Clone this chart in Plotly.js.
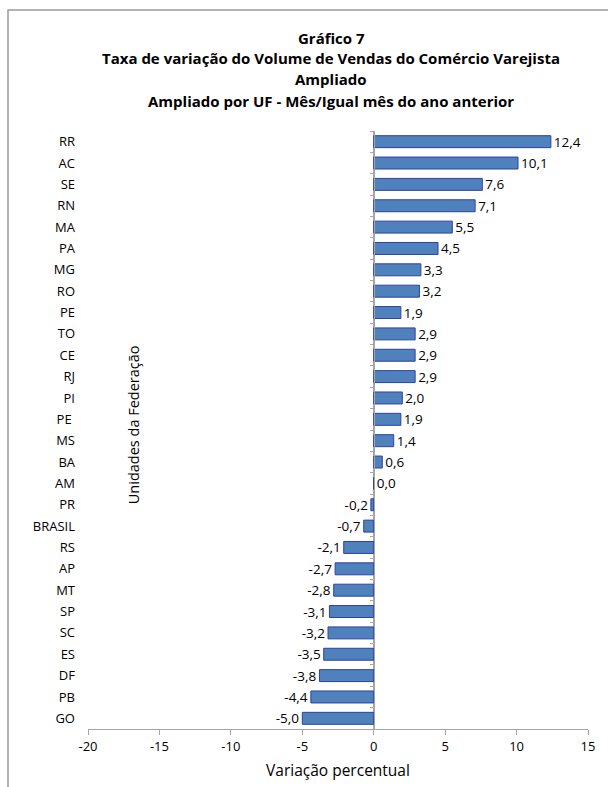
<!DOCTYPE html>
<html>
<head>
<meta charset="utf-8">
<script src="https://cdn.plot.ly/plotly-3.0.1.min.js"></script>
<style>html,body{margin:0;padding:0;background:#fff;}#chart{width:608px;height:787px;}</style>
</head>
<body>
<div id="chart"></div>
<script>
const titleLines = ["Gráfico 7","Taxa de variação do Volume de Vendas do Comércio Varejista","Ampliado","Ampliado por UF - Mês/Igual mês do ano anterior"];
const categories = ["RR","AC","SE","RN","MA","PA","MG","RO","PE","TO","CE","RJ","PI","PE ","MS","BA","AM","PR","BRASIL","RS","AP","MT","SP","SC","ES","DF","PB","GO"];
const values = [12.4,10.1,7.6,7.1,5.5,4.5,3.3,3.2,1.9,2.9,2.9,2.9,2.0,1.9,1.4,0.6,0.0,-0.2,-0.7,-2.1,-2.7,-2.8,-3.1,-3.2,-3.5,-3.8,-4.4,-5.0];
const xTicks = [-20,-15,-10,-5,0,5,10,15];
const xRange = [-20, 15];

const fontFam = "'Open Sans', 'Noto Sans', sans-serif";
const n = categories.length;
const idx = categories.map((c,i)=>i);
const boundaries = [];
for (let i = 0; i <= n; i++) boundaries.push(i - 0.5);
const zeroPos = (0 - xRange[0]) / (xRange[1] - xRange[0]);

const traces = [
  {
    type: 'bar', orientation: 'h',
    x: values, y: idx,
    marker: {color: '#4F81BD', line: {color: '#2E40A0', width: 1}},
    text: values.map(v => v.toFixed(1).replace('.', ',')),
    textposition: 'outside', cliponaxis: false, constraintext: 'none',
    textfont: {family: fontFam, size: 13.5, color: '#000'},
    hoverinfo: 'skip', showlegend: false
  },
  {
    type: 'scatter', mode: 'markers', x: [], y: [], yaxis: 'y2',
    hoverinfo: 'skip', showlegend: false
  }
];

// title line positions in pixels from top
const titleY = [38, 58, 79, 101];
const plotTop = 131, plotH = 598;
const titleAnn = titleLines.map((t, i) => ({
  text: '<b>' + t + '</b>',
  xref: 'paper', yref: 'paper',
  x: (331 - 88) / 500, y: 1 + (plotTop - titleY[i]) / plotH,
  xanchor: 'center', yanchor: 'middle', showarrow: false,
  font: {family: fontFam, size: 15, color: '#000'}
}));

const layout = {
  width: 608, height: 787,
  margin: {l: 88, r: 20, t: 131, b: 58},
  paper_bgcolor: '#fff', plot_bgcolor: '#fff',
  bargap: 0.44,
  xaxis: {
    range: xRange, tickvals: xTicks, ticktext: xTicks.map(String),
    showline: true, linecolor: '#A6A6A6', linewidth: 1,
    ticks: 'outside', ticklen: 5, tickcolor: '#A6A6A6',
    showgrid: false, zeroline: true, zerolinecolor: '#A6A6A6', zerolinewidth: 1,
    tickfont: {family: fontFam, size: 13, color: '#000'},
    title: {text: 'Variação percentual', font: {family: fontFam, size: 15.5, color: '#000'}, standoff: 11}
  },
  yaxis: {
    range: [n - 0.5, -0.5],
    tickvals: idx, ticktext: categories,
    showline: false, ticks: '', showgrid: false, zeroline: false,
    tickfont: {family: fontFam, size: 13, color: '#000'},
    ticklabelstandoff: 12
  },
  yaxis2: {
    overlaying: 'y', anchor: 'free', position: zeroPos, side: 'left',
    range: [n - 0.5, -0.5],
    tickvals: boundaries, showticklabels: false,
    ticks: 'outside', ticklen: 4, tickcolor: '#A6A6A6',
    showline: true, linecolor: '#A6A6A6', linewidth: 1,
    showgrid: false, zeroline: false
  },
  annotations: titleAnn.concat([{
    text: 'Unidades da Federação', textangle: -90,
    xref: 'paper', yref: 'paper', x: 0.09, y: 0.508,
    xanchor: 'center', yanchor: 'middle', showarrow: false,
    font: {family: fontFam, size: 14.5, color: '#000'}
  }]),
  shapes: [{
    type: 'rect', xref: 'paper', yref: 'paper',
    x0: -0.16, x1: 1.1, y0: -0.2, y1: 1 + (plotTop - 10) / plotH,
    line: {color: '#9A9A9A', width: 1.5}, fillcolor: 'rgba(0,0,0,0)', layer: 'below'
  }]
};

Plotly.newPlot('chart', traces, layout, {displayModeBar: false, staticPlot: true});
</script>
</body>
</html>
